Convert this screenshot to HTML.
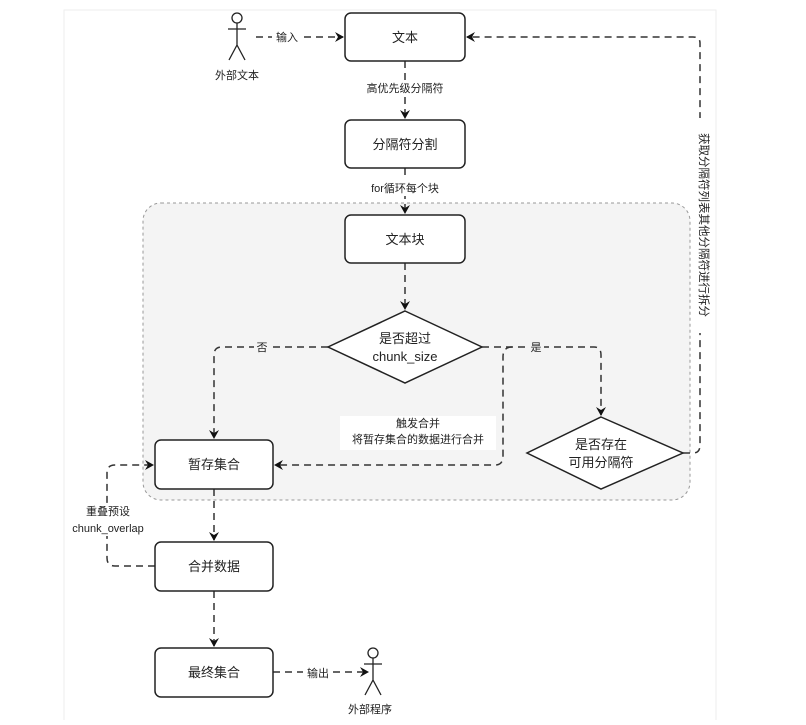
<!DOCTYPE html>
<html><head><meta charset="utf-8"><style>
body{margin:0;background:#fff;}
svg text{font-family:"Liberation Sans","Noto Sans CJK SC",sans-serif;fill:#222;}
</style></head><body>
<svg width="806" height="720" viewBox="0 0 806 720" xmlns="http://www.w3.org/2000/svg">
<defs><marker id="a" markerWidth="10" markerHeight="10" refX="8" refY="5" orient="auto" markerUnits="userSpaceOnUse"><path d="M0,0 L9,5 L0,10 L3,5 z" fill="#111"/></marker></defs>
<rect x="64" y="10" width="652" height="712" fill="#fff" stroke="#eee"/>
<rect x="143" y="203" width="547" height="297" rx="18" fill="#f4f4f4" stroke="#999" stroke-dasharray="3,3"/>
<g fill="none" stroke="#333" stroke-width="1.5" stroke-dasharray="7,5">
<path d="M256,37 H343" marker-end="url(#a)"/>
<path d="M405,61 V118" marker-end="url(#a)"/>
<path d="M405,168 V213" marker-end="url(#a)"/>
<path d="M405,263 V309" marker-end="url(#a)"/>
<path d="M328,347 H222 Q214,347 214,355 V438" marker-end="url(#a)"/>
<path d="M482,347 H594 Q601,347 601,355 V415" marker-end="url(#a)"/>
<path d="M512,347 Q503,347 503,357 V456 Q503,465 495,465 H275" marker-end="url(#a)"/>
<path d="M683,453 H693 Q700,453 700,445 V43 Q700,37 693,37 H467" marker-end="url(#a)"/>
<path d="M214,489 V540" marker-end="url(#a)"/>
<path d="M214,591 V646" marker-end="url(#a)"/>
<path d="M155,566 H115 Q107,566 107,558 V473 Q107,465 115,465 H153" marker-end="url(#a)"/>
<path d="M273,672 H368" marker-end="url(#a)"/>
</g>
<g fill="#fff" stroke="#222" stroke-width="1.5">
<rect x="345" y="13" width="120" height="48" rx="6"/>
<rect x="345" y="120" width="120" height="48" rx="6"/>
<rect x="345" y="215" width="120" height="48" rx="6"/>
<rect x="155" y="440" width="118" height="49" rx="6"/>
<rect x="155" y="542" width="118" height="49" rx="6"/>
<rect x="155" y="648" width="118" height="49" rx="6"/>
<path d="M405,311 L482,347 L405,383 L328,347 Z"/>
<path d="M601,417 L683,453 L601,489 L527,453 Z"/>
</g>
<g fill="none" stroke="#222" stroke-width="1.3">
<circle cx="237" cy="18" r="5"/><path d="M237,23 V45 M228,29 H246 M237,45 L229,60 M237,45 L245,60"/>
<circle cx="373" cy="653" r="5"/><path d="M373,658 V680 M364,664 H382 M373,680 L365,695 M373,680 L381,695"/>
</g>
<g font-size="13" text-anchor="middle">
<text x="405" y="42">文本</text>
<text x="405" y="149">分隔符分割</text>
<text x="405" y="244">文本块</text>
<text x="405" y="343">是否超过</text>
<text x="405" y="361">chunk_size</text>
<text x="601" y="449">是否存在</text>
<text x="601" y="467">可用分隔符</text>
<text x="214" y="469">暂存集合</text>
<text x="214" y="571">合并数据</text>
<text x="214" y="677">最终集合</text>
</g>
<g font-size="11" text-anchor="middle">
<rect x="272" y="29" width="30" height="16" fill="#fff"/><text x="287" y="41">输入</text>
<text x="237" y="79">外部文本</text>
<rect x="358" y="80" width="95" height="16" fill="#fff"/><text x="405" y="92">高优先级分隔符</text>
<rect x="358" y="180" width="95" height="16" fill="#fff"/><text x="405" y="192">for循环每个块</text>
<rect x="254" y="340" width="16" height="14" fill="#f4f4f4"/><text x="262" y="351">否</text>
<rect x="528" y="340" width="16" height="14" fill="#f4f4f4"/><text x="536" y="351">是</text>
<rect x="340" y="416" width="156" height="34" fill="#fff"/>
<text x="418" y="427">触发合并</text>
<text x="418" y="443">将暂存集合的数据进行合并</text>
<rect x="66" y="504" width="88" height="32" fill="#fff"/>
<text x="108" y="515">重叠预设</text>
<text x="108" y="532">chunk_overlap</text>
<rect x="303" y="665" width="30" height="16" fill="#fff"/><text x="318" y="677">输出</text>
<text x="370" y="713">外部程序</text>
<rect x="692" y="118" width="16" height="215" fill="#fff"/>
<text transform="translate(700,225) rotate(90)" font-size="11.5">获取分隔符列表其他分隔符进行拆分</text>
</g>
</svg>
</body></html>
